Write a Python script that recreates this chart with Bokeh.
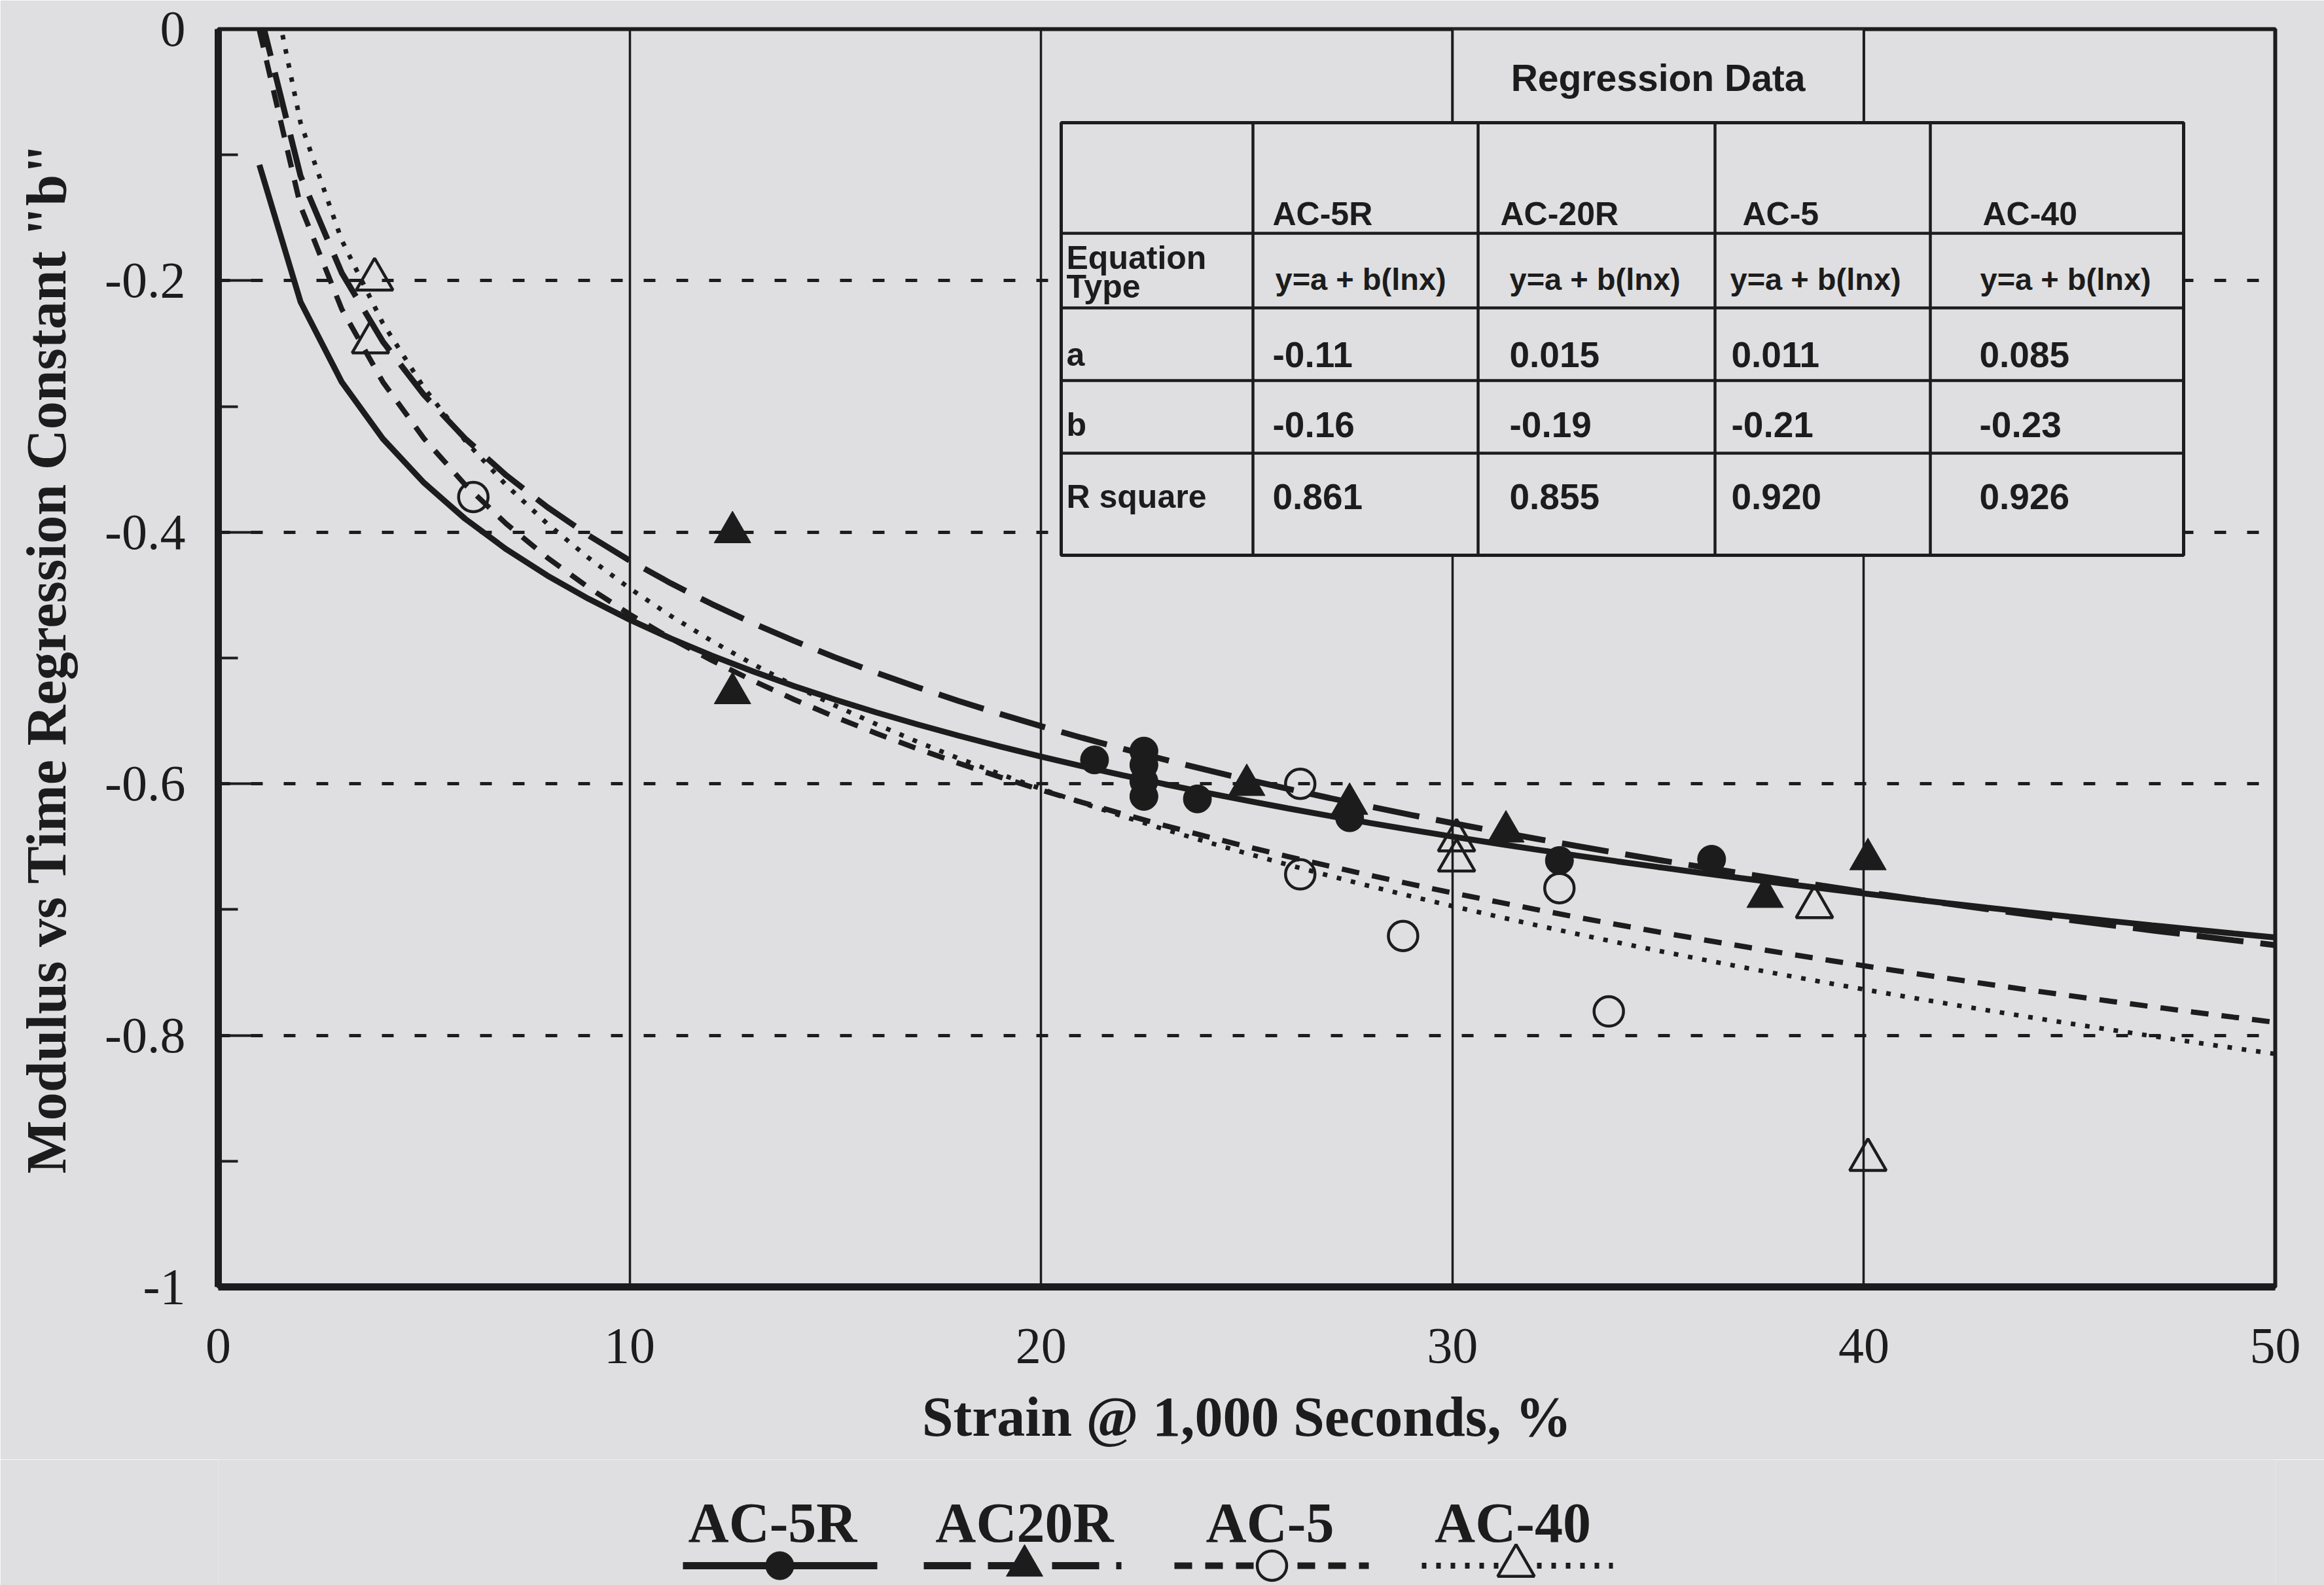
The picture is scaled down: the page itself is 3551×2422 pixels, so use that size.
import numpy as np
from bokeh.plotting import figure
from bokeh.models import Range1d, FixedTicker
from bokeh.layouts import column
from bokeh.embed import file_html
from bokeh.resources import INLINE
from bokeh.core.properties import value

# ---------------- data ----------------
series = ["AC-5R", "AC-20R", "AC-5", "AC-40"]
legend_names = ["AC-5R", "AC20R", "AC-5", "AC-40"]

ac5r_x = [21.3, 22.5, 22.5, 22.5, 22.5, 23.8, 27.5, 32.6, 36.3]
ac5r_y = [-0.581, -0.574, -0.585, -0.598, -0.610, -0.612, -0.627, -0.661, -0.660]

ac20r_x = [12.5, 12.5, 25.0, 27.5, 31.3, 37.6, 40.1]
ac20r_y = [-0.400, -0.528, -0.601, -0.616, -0.638, -0.690, -0.660]

ac5_x = [6.2, 26.3, 26.3, 28.8, 32.6, 33.8]
ac5_y = [-0.372, -0.600, -0.672, -0.721, -0.683, -0.781]

ac40_x = [3.8, 3.7, 30.1, 30.1, 38.8, 40.1]
ac40_y = [-0.199, -0.249, -0.645, -0.661, -0.698, -0.899]

# regression curves y = a + b ln(x), as drawn (evaluated at whole-number strains)
fit_a = [-0.108, 0.015, -0.001, 0.085]
fit_b = [-0.157, -0.19, -0.2016, -0.23]
fit_x = list(range(1, 51))

# regression table
table_equation = ["y=a + b(lnx)", "y=a + b(lnx)", "y=a + b(lnx)", "y=a + b(lnx)"]
table_a = ["-0.11", "0.015", "0.011", "0.085"]
table_b = ["-0.16", "-0.19", "-0.21", "-0.23"]
table_r2 = ["0.861", "0.855", "0.920", "0.926"]
table_rows = ["a", "b", "R square"]

x_ticks = [0, 10, 20, 30, 40, 50]
y_ticks = [0, -0.2, -0.4, -0.6, -0.8, -1.0]
y_tick_labels = ["0", "-0.2", "-0.4", "-0.6", "-0.8", "-1"]
y_minor = [-0.1, -0.3, -0.5, -0.7, -0.9]

# ---------------- styles / layout ----------------
BG = "#dfdfe1"
INK = "#1c1c1c"
W = 3551
H1 = 2230
H2 = 192
SERIF = "Liberation Serif"
SANS = "Liberation Sans"

F_LEFT, F_RIGHT, F_TOP, F_BOTTOM = 333, 3476, 44, 1966

# page-pixel -> data helpers for annotation placement
X_PER = (F_RIGHT - F_LEFT) / 50.0
Y_PER = (F_BOTTOM - F_TOP) / 1.0
def dx(px):
    return (px - F_LEFT) / X_PER
def dy(py):
    return -(py - F_TOP) / Y_PER

styles = [
    dict(dash="solid", width=9, marker="circle", size=43, fill=INK),
    dict(dash="72 26", width=9, marker="triangle", size=56, fill=INK),
    dict(dash="27 20", width=8, marker="circle", size=45, fill=None),
    dict(dash="7 15", width=7, marker="triangle", size=56, fill=None),
]

p = figure(width=W, height=H1, x_range=Range1d(0, 50), y_range=Range1d(-1, 0),
           output_backend="svg", toolbar_location=None,
           min_border_left=F_LEFT, min_border_right=W - F_RIGHT, min_border_top=F_TOP,
           min_border_bottom=H1 - F_BOTTOM)
p.background_fill_color = BG
p.border_fill_color = BG
p.outline_line_color = INK
p.outline_line_width = 6

xt = FixedTicker(ticks=x_ticks)
yt = FixedTicker(ticks=y_ticks, minor_ticks=y_minor)
p.xaxis.ticker = xt
p.yaxis.ticker = yt
p.xgrid.ticker = xt
p.ygrid.ticker = yt
p.yaxis.major_label_overrides = {v: s for v, s in zip(y_ticks, y_tick_labels)}

for ax in (p.xaxis[0], p.yaxis[0]):
    ax.axis_line_width = 11
    ax.axis_line_color = INK
    ax.major_label_text_font = SERIF
    ax.major_label_text_font_size = "78px"
    ax.major_label_text_color = INK
    ax.axis_label_text_font = SERIF
    ax.axis_label_text_font_style = "bold"
    ax.axis_label_text_font_size = "86px"
    ax.axis_label_text_color = INK

p.xaxis.major_tick_in = 0
p.xaxis.major_tick_out = 0
p.xaxis.minor_tick_in = 0
p.xaxis.minor_tick_out = 0
p.xaxis.major_label_standoff = 64
p.xaxis.axis_label = "Strain @ 1,000 Seconds, %"
p.xaxis.axis_label_standoff = 32

p.yaxis.major_tick_in = 60
p.yaxis.major_tick_out = 0
p.yaxis.major_tick_line_width = 4
p.yaxis.major_tick_line_color = INK
p.yaxis.minor_tick_in = 30
p.yaxis.minor_tick_out = 0
p.yaxis.minor_tick_line_width = 4
p.yaxis.minor_tick_line_color = INK
p.yaxis.major_label_standoff = 50
p.yaxis.axis_label = 'Modulus vs Time Regression Constant "b"'
p.yaxis.axis_label_standoff = 38

p.xgrid.grid_line_color = INK
p.xgrid.grid_line_width = 3.5
p.ygrid.grid_line_color = INK
p.ygrid.grid_line_width = 5
p.ygrid.grid_line_dash = "18 32"

# ---------------- regression table (drawn over the grid) ----------------
col_px = [1621, 1914, 2258, 2620, 2949, 3336]
row_px = [187, 356, 470, 581, 692, 848]
p.quad(left=[30], right=[40], top=[0], bottom=[dy(row_px[0])],
       fill_color=BG, line_color=INK, line_width=4)
p.quad(left=[dx(col_px[0])], right=[dx(col_px[-1])], top=[dy(row_px[0])], bottom=[dy(row_px[-1])],
       fill_color=BG, line_color=INK, line_width=5)
p.segment(x0=[dx(c) for c in col_px[1:-1]], x1=[dx(c) for c in col_px[1:-1]],
          y0=[dy(row_px[0])] * 4, y1=[dy(row_px[-1])] * 4, line_color=INK, line_width=4.5)
p.segment(x0=[dx(col_px[0])] * 4, x1=[dx(col_px[-1])] * 4,
          y0=[dy(r) for r in row_px[1:-1]], y1=[dy(r) for r in row_px[1:-1]],
          line_color=INK, line_width=4.5)

p.text(x=[35], y=[dy(118)], text=["Regression Data"], text_font=value(SANS),
       text_font_style="bold", text_font_size="57px", text_align="center",
       text_baseline="middle", text_color=INK)
hdr_x = [1944, 2292, 2662, 3029]
eq_x = [1948, 2306, 2643, 3025]
val_x = [1944, 2306, 2645, 3024]
p.text(x=[dx(v) for v in hdr_x], y=[dy(326)] * 4, text=series, text_font=value(SANS),
       text_font_style="bold", text_font_size="50px", text_align="left",
       text_baseline="middle", text_color=INK)
p.text(x=[dx(v) for v in eq_x], y=[dy(426)] * 4, text=table_equation, text_font=value(SANS),
       text_font_style="bold", text_font_size="47px", text_align="left",
       text_baseline="middle", text_color=INK)
for vals, ypx in ((table_a, 541), (table_b, 648), (table_r2, 758)):
    p.text(x=[dx(v) for v in val_x], y=[dy(ypx)] * 4, text=vals, text_font=value(SANS),
           text_font_style="bold", text_font_size="55px", text_align="left",
           text_baseline="middle", text_color=INK)
p.text(x=[dx(1629)] * 5, y=[dy(393), dy(437), dy(541), dy(648), dy(758)],
       text=["Equation", "Type"] + table_rows, text_font=value(SANS),
       text_font_style="bold", text_font_size="50px", text_align="left",
       text_baseline="middle", text_color=INK)

# ---------------- curves and points ----------------
fx = np.array(fit_x, dtype=float)
pts = [(ac5r_x, ac5r_y), (ac20r_x, ac20r_y), (ac5_x, ac5_y), (ac40_x, ac40_y)]
for a, b, st in zip(fit_a, fit_b, styles):
    p.line(fx, a + b * np.log(fx), line_color=INK, line_width=st["width"],
           line_dash=st["dash"])
for (xs, ys), st in zip(pts, styles):
    if st["fill"] is None:
        p.scatter(xs, ys, marker=st["marker"], size=st["size"], fill_color=None,
                  line_color=INK, line_width=4.5)
    else:
        p.scatter(xs, ys, marker=st["marker"], size=st["size"], fill_color=INK,
                  line_color=INK, line_width=1)

# ---------------- legend strip below (frame aligned with the chart frame) ----------------
leg = figure(width=W, height=H2, x_range=Range1d(0, 50), y_range=Range1d(H2, 0),
             output_backend="svg", toolbar_location=None,
             min_border_left=F_LEFT, min_border_right=W - F_RIGHT,
             min_border_top=0, min_border_bottom=0,
             x_axis_location=None, y_axis_location=None)
leg.background_fill_color = BG
leg.border_fill_color = BG
leg.outline_line_color = None
leg.grid.visible = False

leg_text_px = [1180, 1565, 1940, 2311]
leg_line_px0 = [1043, 1411, 1794, 2172]
leg_line_px1 = [1340, 1713, 2091, 2464]
leg_mark_px = [1191, 1565, 1943, 2316]
leg_text_y = 2326 - H1
leg_line_y = 2392 - H1
leg.text(x=[dx(v) for v in leg_text_px], y=[leg_text_y] * 4, text=legend_names,
         text_font=value(SERIF), text_font_style="bold", text_font_size="86px",
         text_align="center", text_baseline="middle", text_color=INK)
for i, st in enumerate(styles):
    leg.line([dx(leg_line_px0[i]), dx(leg_line_px1[i])], [leg_line_y, leg_line_y],
             line_color=INK, line_width=st["width"] + 2, line_dash=st["dash"])
    if st["fill"] is None:
        leg.scatter([dx(leg_mark_px[i])], [leg_line_y], marker=st["marker"], size=st["size"],
                    fill_color=BG, line_color=INK, line_width=4.5)
    else:
        leg.scatter([dx(leg_mark_px[i])], [leg_line_y], marker=st["marker"], size=st["size"],
                    fill_color=INK, line_color=INK)

layout = column(p, leg, spacing=0)
open("out.html", "w").write(file_html(layout, INLINE))
